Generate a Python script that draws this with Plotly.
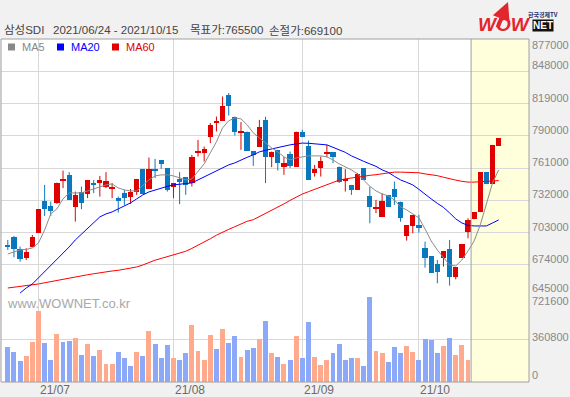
import pandas as pd
import plotly.graph_objects as go

# ---------------- data ----------------
stock_name = "삼성SDI"
period_text = "2021/06/24 - 2021/10/15"
target_text = "목표가:765500"
stop_text = "손절가:669100"

holidays = ["2021-08-16", "2021-09-20", "2021-09-21", "2021-09-22", "2021-10-04", "2021-10-11"]
dates = [d for d in pd.bdate_range("2021-06-24", "2021-10-15") if d.strftime("%Y-%m-%d") not in holidays]
n_forecast = 5  # projected candles in the shaded area

opens = [691200, 698700, 688200, 680400, 690300, 702900, 731400, 726900, 729400, 750100,
         754800, 726300, 739800, 737500, 747400, 747400, 744300, 742500, 734400, 738900,
         735000, 739300, 760200, 742200, 760000, 768100, 760900, 744300, 751200, 752800,
         747400, 774400, 774400, 789300, 801900, 803400, 826200, 807300, 792400, 793800,
         776400, 780300, 804300, 771300, 777300, 762300, 773700, 762300, 793800, 780900,
         756900, 760900, 774400, 775500, 762300, 749700, 745800, 741300, 760900, 735900,
         724500, 717300, 736800, 742200, 730800, 700200, 708900, 709800, 689400, 681900,
         674700, 680400, 688200, 663300, 680400, 703800, 714900, 721300, 757300, 746500,
         781200]
highs = [696300, 699900, 690300, 688800, 700800, 724000, 745800, 730800, 747900, 758700,
         757300, 739800, 744300, 750300, 750300, 753900, 757300, 747400, 735300, 741300,
         742200, 751200, 760200, 770400, 769200, 768100, 760900, 747400, 757300, 752800,
         772800, 786300, 780300, 801400, 807300, 825300, 828400, 807300, 802300, 793800,
         776400, 804300, 807000, 775800, 777300, 770800, 775800, 793800, 795300, 785700,
         763800, 771300, 781800, 775500, 762300, 760000, 745800, 756400, 760900, 744300,
         732300, 738400, 736800, 748800, 730800, 709800, 718800, 718800, 694800, 681900,
         678300, 686400, 696300, 671700, 692700, 715800, 721300, 757300, 757300, 781800,
         787900]
lows = [687300, 680700, 676800, 678300, 689700, 702600, 717900, 717900, 728700, 742900,
        732300, 712800, 724000, 733900, 738400, 735300, 742900, 733900, 720900, 727800,
        728700, 736800, 737500, 742200, 751900, 760200, 739800, 733900, 728500, 736800,
        744300, 771300, 766800, 783400, 793800, 803400, 808200, 790200, 777300, 776400,
        762900, 780300, 747400, 761800, 758700, 754800, 760900, 762300, 788800, 750300,
        753300, 753300, 770800, 765400, 747400, 739800, 736800, 741300, 750300, 711300,
        720400, 717300, 726300, 727800, 712800, 695700, 702300, 702900, 671400, 666900,
        657300, 672300, 655200, 660900, 680400, 697800, 714900, 721300, 746500, 746500,
        781200]
closes = [690300, 688200, 679200, 685800, 698700, 724000, 724000, 722400, 747900, 751000,
          732300, 736800, 729900, 750300, 745800, 750300, 749400, 743400, 731700, 733900,
          739500, 751200, 737500, 760200, 758400, 764700, 741300, 747400, 748800, 745800,
          771300, 776400, 778200, 799800, 802800, 817200, 817200, 793800, 794400, 776400,
          772800, 798300, 770800, 775800, 765400, 765900, 762900, 793800, 788800, 750300,
          760000, 767700, 775500, 770800, 748800, 751000, 741300, 755700, 750300, 725800,
          725800, 731700, 726300, 735300, 715800, 709800, 718800, 707400, 680400, 666900,
          667800, 686400, 663300, 671700, 692700, 714300, 721300, 757300, 746500, 781800,
          787900]

ma5 = [683700, 685500, 687300, 687800, 689100, 693600, 705300, 719700, 724200, 733200,
       738600, 738600, 738600, 740400, 742200, 744000, 745800, 746700, 743100, 741300,
       740400, 740400, 745800, 750300, 753900, 754800, 754800, 753900, 752100, 750300,
       751200, 757500, 764700, 774600, 784500, 797100, 803400, 806100, 805200, 799800,
       792600, 788100, 783600, 779100, 775500, 771000, 768300, 770100, 771000, 771900,
       771900, 771900, 771000, 768300, 764700, 762000, 759300, 755700, 750300, 744500,
       740400, 737700, 735900, 732300, 726000, 723300, 719700, 716100, 706200, 695400,
       687300, 680100, 673800, 672900, 678300, 686400, 695400, 709800, 729600, 747600,
       759300]
ma20 = [None, None, 648600, 653100, 656700, 662100, 667500, 672900, 679200, 683700,
        690000, 696300, 701700, 707100, 712500, 717000, 719700, 721500, 724200, 726900,
        729600, 733200, 736800, 739500, 741300, 743100, 744500, 745800, 746300, 746700,
        747600, 750300, 753000, 755700, 758400, 761100, 763800, 765600, 768300, 770600,
        772800, 775500, 776900, 778200, 779600, 780900, 781800, 782700, 783400, 783200,
        782700, 782300, 781800, 779600, 777300, 775100, 771900, 769200, 767000, 764700,
        762500, 759300, 757100, 753500, 750300, 748100, 745800, 741800, 737300, 733200,
        729200, 725600, 720600, 715200, 711600, 709400, 708900, 708900, 708900, 711600,
        714300]
ma60 = [653100, 653700, 654400, 654900, 655500, 656700, 657800, 658900, 660000, 661200,
        662100, 663000, 663900, 665000, 665900, 666900, 667700, 668400, 669000, 669900,
        670900, 672000, 673800, 676100, 678100, 679700, 681200, 682800, 684600, 686100,
        688700, 691400, 694200, 697400, 700600, 703500, 705800, 708200, 710700, 713100,
        714500, 717200, 719900, 722600, 725800, 728700, 731900, 734900, 737600, 739700,
        741800, 743800, 745800, 748000, 750100, 751200, 752100, 753000, 753700, 754400,
        755000, 755700, 756600, 757300, 757300, 757300, 757300, 756700, 755700, 755100,
        754100, 752700, 751200, 750100, 749000, 748300, 748300, 748700, 749100, 749400,
        749700]

volumes = [300600, 252600, 176800, 224800, 342700, 603700, 334300, 182700, 410000, 342700,
           351000, 376000, 233000, 326000, 225000, 275000, 157000, 157000, 258000, 200000,
           132000, 258000, 225000, 435000, 326000, 200000, 317000, 200000, 183000, 250000,
           486000, 267000, 191000, 402000, 284000, 452000, 334000, 393000, 216000, 275000,
           292000, 368000, 519000, 242000, 216000, 157000, 191000, 393000, 208000, 510000,
           216000, 141000, 183000, 242000, 326000, 183000, 200000, 200000, 132000, 722000,
           267000, 250000, 166000, 300000, 250000, 309000, 258000, 183000, 368000, 360000,
           250000, 309000, 376000, 233000, 317000, 191000]
volume_up = [0, 0, 0, 1, 1, 1, 0, 0, 1, 0, 0, 1, 0, 1, 0, 1, 1, 1, 0, 0,
             0, 1, 0, 1, 0, 0, 0, 1, 0, 0, 1, 1, 1, 1, 0, 1, 0, 0, 1, 0,
             0, 1, 0, 1, 0, 1, 0, 1, 0, 0, 1, 1, 1, 0, 0, 0, 0, 1, 0, 0,
             1, 1, 0, 0, 0, 1, 1, 0, 0, 0, 0, 1, 0, 1, 1, 1]

price_ticks = [877000, 848000, 819000, 790000, 761000, 732000, 703000, 674000, 645000]
volume_ticks = [721600, 360800, 0]
legend_items = [("MA5", "#888888"), ("MA20", "#0000ff"), ("MA60", "#e00000")]

# ---------------- styling / geometry ----------------
W, H = 570, 397
ML, MR, MT, MB = 1, 41, 39, 15
PW, PH = W - ML - MR, H - MT - MB
VOL_FRAC = 85 / PH
X_RANGE = [-1.11, 84.94]

UP = "#e00000"
DOWN = "#0a78be"
VOL_UP = "#ffaa8c"
VOL_DOWN = "#8ca9f9"
GRID = "#d8d8d8"
BORDER = "#a0a0a0"
LABEL = "#888888"


def px_x(px):
    return (px - ML) / PW


def px_y(py):
    return (H - MB - py) / PH


n_real = len(dates)
n_all = n_real + n_forecast
idx = list(range(n_all))

month_idx, month_lbl = [], []
for i, d in enumerate(dates):
    if i == 0 or d.month != dates[i - 1].month:
        if d.day <= 7:
            month_idx.append(i)
            month_lbl.append(d.strftime("%y/%m"))

fig = go.Figure()

# candle bodies
body_base = [min(o, c) for o, c in zip(opens, closes)]
body_h = [max(abs(c - o), 900) for o, c in zip(opens, closes)]
body_col = [UP if c >= o else DOWN for o, c in zip(opens, closes)]
fig.add_trace(go.Bar(x=idx, y=body_h, base=body_base, marker=dict(color=body_col, line_width=0),
                     width=0.86, hoverinfo="skip", showlegend=False, xaxis="x", yaxis="y"))

# wicks
for col in (UP, DOWN):
    wx, wy = [], []
    for i in idx:
        if body_col[i] == col:
            wx += [i, i, None]
            wy += [lows[i], highs[i], None]
    fig.add_trace(go.Scatter(x=wx, y=wy, mode="lines", line=dict(color=col, width=1),
                             hoverinfo="skip", showlegend=False, xaxis="x", yaxis="y"))

# moving averages
for vals, col in ((ma60, "#ff0000"), (ma20, "#0000ff"), (ma5, "#8c8c8c")):
    fig.add_trace(go.Scatter(x=idx, y=vals, mode="lines", line=dict(color=col, width=1),
                             hoverinfo="skip", showlegend=False, xaxis="x", yaxis="y"))

# volume
fig.add_trace(go.Bar(x=list(range(n_real)), y=volumes,
                     marker=dict(color=[VOL_UP if u else VOL_DOWN for u in volume_up], line_width=0),
                     width=0.8, hoverinfo="skip", showlegend=False, xaxis="x2", yaxis="y2"))

shapes = [
    dict(type="rect", xref="x", yref="y", x0=n_real - 0.5, x1=X_RANGE[1], y0=price_ticks[-1], y1=price_ticks[0],
         fillcolor="#ffffdc", line_width=0, layer="below"),
    dict(type="rect", xref="x2", yref="y2", x0=n_real - 0.5, x1=X_RANGE[1], y0=0, y1=volume_ticks[0],
         fillcolor="#ffffdc", line_width=0, layer="below"),
    dict(type="line", xref="x", yref="paper", x0=n_real - 0.5, x1=n_real - 0.5, y0=0, y1=1,
         line=dict(color=BORDER, width=1)),
    dict(type="rect", xref="paper", yref="paper", x0=0, x1=1, y0=0, y1=1,
         line=dict(color=BORDER, width=1)),
]

annotations = []
# right axis labels
label_font = dict(family="Liberation Sans", size=11, color=LABEL)
for v in price_ticks:
    if v == price_ticks[0]:
        shift = -6
    elif v == price_ticks[-1]:
        shift = 9
    else:
        shift = 6
    annotations.append(dict(xref="paper", yref="y", x=1, y=v, xanchor="left", yanchor="middle",
                            xshift=1, yshift=shift, text=str(v), showarrow=False, font=label_font))
for v, s in zip(volume_ticks, (-4, 3, 7)):
    annotations.append(dict(xref="paper", yref="y2", x=1, y=v, xanchor="left", yanchor="middle",
                            xshift=1, yshift=s, text=str(v), showarrow=False, font=label_font))

# month labels on the bottom axis
for i, lbl in zip(month_idx, month_lbl):
    annotations.append(dict(xref="x2", yref="paper", x=i, y=px_y(390), xanchor="left", yanchor="middle",
                            xshift=-0.5, text=lbl, showarrow=False,
                            font=dict(family="Liberation Sans", size=12, color="#6a6a6a")))

# header
hdr_font = dict(family="Liberation Sans, Noto Sans CJK KR", size=11.5, color="#444444")
for txt, px in ((stock_name, 2), (period_text, 51), (target_text, 188), (stop_text, 267)):
    annotations.append(dict(xref="paper", yref="paper", x=px_x(px), y=px_y(30), xanchor="left",
                            yanchor="middle", text=txt, showarrow=False, font=hdr_font))

# legend
for (name, col), sq_x, tx in zip(legend_items, (8, 57, 112), (20, 69, 124)):
    shapes.append(dict(type="rect", xref="paper", yref="paper", x0=px_x(sq_x), x1=px_x(sq_x + 7),
                       y0=px_y(50.5), y1=px_y(43.5), fillcolor=col, line_width=0))
    annotations.append(dict(xref="paper", yref="paper", x=px_x(tx), y=px_y(47), xanchor="left",
                            yanchor="middle", text=name, showarrow=False,
                            font=dict(family="Liberation Sans", size=11, color=col)))

# watermark
annotations.append(dict(xref="paper", yref="paper", x=px_x(5), y=px_y(303), xanchor="left", yanchor="middle",
                        text="www.WOWNET.co.kr", showarrow=False,
                        font=dict(family="Liberation Sans", size=13, color="#a8a8a8")))

# logo
annotations.append(dict(xref="paper", yref="paper", x=px_x(504), y=px_y(25), xanchor="center", yanchor="middle",
                        text="<b><i>WOW</i></b>", showarrow=False,
                        font=dict(family="Liberation Sans", size=19, color="#e3262d")))
annotations.append(dict(xref="paper", yref="paper", x=px_x(508), y=px_y(2), ax=-11, ay=27, text="",
                        showarrow=True, arrowhead=2, arrowsize=0.9, arrowwidth=4, arrowcolor="#e3262d"))
annotations.append(dict(xref="paper", yref="paper", x=px_x(543), y=px_y(25.5), xanchor="center", yanchor="middle",
                        text="<b>NET</b>", showarrow=False, bgcolor="#111111", borderpad=0,
                        font=dict(family="Liberation Sans", size=10, color="#ffffff")))
annotations.append(dict(xref="paper", yref="paper", x=px_x(543), y=px_y(14.5), xanchor="center", yanchor="middle",
                        text="<b>한국경제TV</b>", showarrow=False,
                        font=dict(family="Noto Sans CJK KR", size=6, color="#1f2f6f")))

axis_common = dict(range=X_RANGE, tickvals=month_idx, showgrid=True, gridcolor=GRID, gridwidth=1,
                   zeroline=False, showline=False, ticks="", fixedrange=True, showticklabels=False)

fig.update_layout(
    width=W, height=H,
    margin=dict(l=ML, r=MR, t=MT, b=MB, pad=0),
    paper_bgcolor="#f1f1f1", plot_bgcolor="#ffffff",
    barmode="overlay", bargap=0, showlegend=False,
    xaxis=dict(**axis_common, anchor="y", domain=[0, 1]),
    xaxis2=dict(**axis_common, anchor="y2", domain=[0, 1], matches="x"),
    yaxis=dict(domain=[VOL_FRAC, 1], range=[price_ticks[-1], price_ticks[0]], tickvals=price_ticks,
               showticklabels=False, showgrid=True, gridcolor=GRID, zeroline=False, ticks="", fixedrange=True),
    yaxis2=dict(domain=[0, VOL_FRAC], range=[0, volume_ticks[0]], tickvals=volume_ticks,
                showticklabels=False, showgrid=True, gridcolor=GRID, zeroline=False, ticks="", fixedrange=True),
    shapes=shapes,
    annotations=annotations,
)

fig.write_html("out.html", config={"displayModeBar": False},
               post_script="document.body.style.margin='0';document.body.style.background='#f1f1f1';")
